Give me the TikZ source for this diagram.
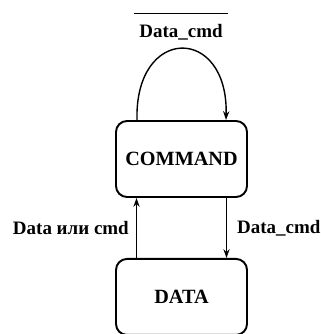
\documentclass[tikz,border=0pt]{standalone}
\usepackage{fontspec}
\setmainfont{Liberation Serif}
\usetikzlibrary{arrows.meta,positioning}
\tikzset{
  statebox/.style={draw, line width=1.1pt, rounded corners=0.22cm, minimum width=2.62cm, minimum height=1.52cm, font=\fontsize{11.5}{13}\selectfont\bfseries},
  flow/.style={line width=0.8pt, -{Stealth[length=5pt,width=3.5pt]}},
  lbl/.style={inner sep=0pt, font=\fontsize{10.8}{12}\selectfont\bfseries}
}
\begin{document}
\begin{tikzpicture}
				\useasboundingbox (0,0) rectangle (6.4,6.68);
				% states
				\node[statebox] (cmd) at (3.63,3.5) {COMMAND};
				\node[statebox, below=1.2cm of cmd] (data) {DATA};
				% transitions
				\draw[flow] ([xshift=-0.9cm]data.north) -- ([xshift=-0.9cm]cmd.south) node[lbl, midway, left=0.14cm] {Data или cmd};
				\draw[flow] ([xshift=0.9cm]cmd.south) -- ([xshift=0.9cm]data.north) node[lbl, midway, right=0.2cm] {Data\_cmd};
				\draw[flow] ([xshift=-0.89cm]cmd.north) .. controls +(-0.05,1.9) and +(0.05,1.9) .. ([xshift=0.89cm]cmd.north);
				% loop label with overline
				\node[lbl] (ncmd) at (3.62,6.04) {Data\_cmd};
				\draw[line width=0.8pt] ([xshift=-0.1cm,yshift=0.2cm]ncmd.north west) -- ([xshift=0.1cm,yshift=0.2cm]ncmd.north east);
			\end{tikzpicture}
\end{document}
